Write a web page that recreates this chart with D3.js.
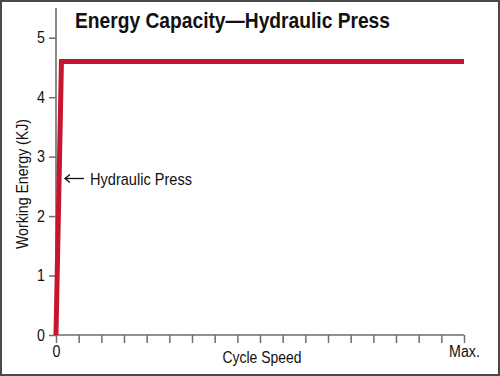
<!DOCTYPE html>
<html>
<head>
<meta charset="utf-8">
<script src="https://cdn.jsdelivr.net/npm/d3@7"></script>
<style>
  html, body { margin: 0; padding: 0; background: #fff; }
  svg { display: block; }
  text { font-family: "Liberation Sans", Arial, Helvetica, sans-serif; fill: #111; }
</style>
</head>
<body>
<svg id="chart" width="500" height="376"></svg>
<script>
// ---- data ----
const title = "Energy Capacity\u2014Hydraulic Press";
const seriesName = "Hydraulic Press";
const speedValues = [0, 0.24, 18];        // cycle speed (tick units, 18 = Max.)
const energyValues = [0, 4.6, 4.6];       // working energy (KJ)
const xTicks = d3.range(0, 19);           // 19 tick marks
const xTickLabels = ["0", "", "", "", "", "", "", "", "", "", "", "", "", "", "", "", "", "", "Max."];
const yTicks = [0, 1, 2, 3, 4, 5];
const xTitle = "Cycle Speed";
const yTitle = "Working Energy (KJ)";

// ---- layout ----
const svg = d3.select("#chart");
const W = 500, H = 376;
const x = d3.scaleLinear().domain([0, 18]).range([56, 464]);
const y = d3.scaleLinear().domain([0, 5.5]).range([335, 8]);
const axisColor = "#6d6d6d";
const FONT = "'Liberation Sans', Arial, Helvetica, sans-serif";

// condense text horizontally (reference uses a condensed face)
function condense(sel, factor) {
  sel.each(function () {
    if (!this.textContent) return;
    const w = this.getComputedTextLength();
    d3.select(this).attr("textLength", w * factor).attr("lengthAdjust", "spacingAndGlyphs");
  });
}

// border
svg.append("rect")
  .attr("x", 1).attr("y", 1).attr("width", W - 2).attr("height", H - 2)
  .attr("fill", "none").attr("stroke", "#4a4a4a").attr("stroke-width", 2);

// y axis
const yAxis = svg.append("g")
  .attr("transform", `translate(${x(0)},0)`)
  .call(d3.axisLeft(y).tickValues(yTicks).tickSize(7).tickPadding(4).tickFormat(d3.format("d")));
yAxis.select(".domain").attr("stroke", axisColor).attr("stroke-width", 1.6).attr("d", `M0,${y(5.5)}V${y(0)}`);
yAxis.selectAll(".tick line").attr("stroke", axisColor).attr("stroke-width", 1.5);
yAxis.selectAll(".tick text").attr("font-size", 16).attr("fill", "#111").style("font-family", FONT)
  .call(condense, 0.89);

// x axis
const xAxis = svg.append("g")
  .attr("transform", `translate(0,${y(0)})`)
  .call(d3.axisBottom(x).tickValues(xTicks).tickSize(8).tickPadding(3)
    .tickFormat((d, i) => xTickLabels[i]));
xAxis.select(".domain").attr("stroke", axisColor).attr("stroke-width", 1.6).attr("d", `M${x(0)},0H${x(18)}`);
xAxis.selectAll(".tick line").attr("stroke", axisColor).attr("stroke-width", 1.5);
xAxis.selectAll(".tick text").attr("font-size", 16).attr("fill", "#111").style("font-family", FONT)
  .call(condense, 0.89);

// series line
const line = d3.line().x((d, i) => x(speedValues[i])).y((d) => y(d));
svg.append("path")
  .datum(energyValues)
  .attr("d", line)
  .attr("fill", "none")
  .attr("stroke", "#c5152f")
  .attr("stroke-width", 5)
  .attr("stroke-linejoin", "miter")
  .attr("stroke-linecap", "butt");

// title
svg.append("text")
  .attr("x", 75).attr("y", 28)
  .attr("font-size", 22).attr("font-weight", "bold")
  .attr("textLength", 315).attr("lengthAdjust", "spacingAndGlyphs")
  .text(title);

// axis titles
svg.append("text")
  .attr("x", 262).attr("y", 363)
  .attr("text-anchor", "middle").attr("font-size", 17)
  .attr("textLength", 79).attr("lengthAdjust", "spacingAndGlyphs")
  .text(xTitle);
svg.append("text")
  .attr("transform", `translate(28,184) rotate(-90)`)
  .attr("text-anchor", "middle").attr("font-size", 17)
  .attr("textLength", 130).attr("lengthAdjust", "spacingAndGlyphs")
  .text(yTitle);

// annotation arrow + label
const ay = 178.5;
const ann = svg.append("g").attr("stroke", "#111").attr("stroke-width", 1.3).attr("fill", "none");
ann.append("line").attr("x1", 65).attr("y1", ay).attr("x2", 84).attr("y2", ay);
ann.append("path").attr("d", `M70,${ay - 4}L65,${ay}L70,${ay + 4}`);
svg.append("text")
  .attr("x", 90).attr("y", 185)
  .attr("font-size", 17)
  .attr("textLength", 102).attr("lengthAdjust", "spacingAndGlyphs")
  .text(seriesName);
</script>
</body>
</html>
